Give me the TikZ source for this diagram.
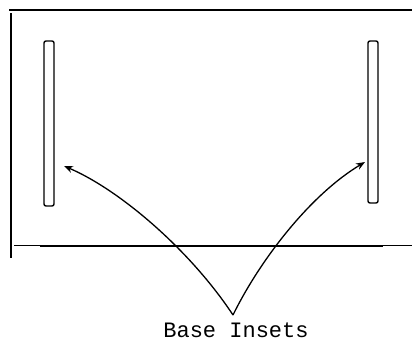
\documentclass[tikz,border=0pt]{standalone}
\usepackage{fontspec}
\setmonofont{Liberation Mono}
\usetikzlibrary{arrows.meta}
\begin{document}
\begin{tikzpicture}[x=1pt,y=-1pt,
  frame/.style={line width=1.6pt},
  inset/.style={draw,line width=1.4pt,rounded corners=2pt,minimum width=10pt,inner sep=0pt},
  pointer/.style={line width=1.3pt,-{Stealth[length=9pt,width=7pt]}},
  lbl/.style={font=\ttfamily\fontsize{22}{24}\selectfont,inner sep=0pt}]
\useasboundingbox (0,0) rectangle (412,343);
% frame
\draw[frame] (9,10) -- (412,10);
\draw[frame] (11,13) -- (11,258);
\draw[line width=1pt] (14,245) -- (412,245);
\draw[line width=1.8pt] (40,246) -- (383,246);
% insets
\node[inset,minimum height=165pt] (L) at (49,123.5) {};
\node[inset,minimum height=162pt] (R) at (373,122) {};
% label
\node[lbl,anchor=base] (T) at (236,337) {Base Insets};
\coordinate (apex) at (233,315);
\coordinate (lt) at (64,166);
\coordinate (rt) at (365,162);
\draw[pointer] (apex) .. controls (190,250) and (120,190) .. (lt);
\draw[pointer] (apex) .. controls (260,260) and (310,195) .. (rt);
\end{tikzpicture}
\end{document}
